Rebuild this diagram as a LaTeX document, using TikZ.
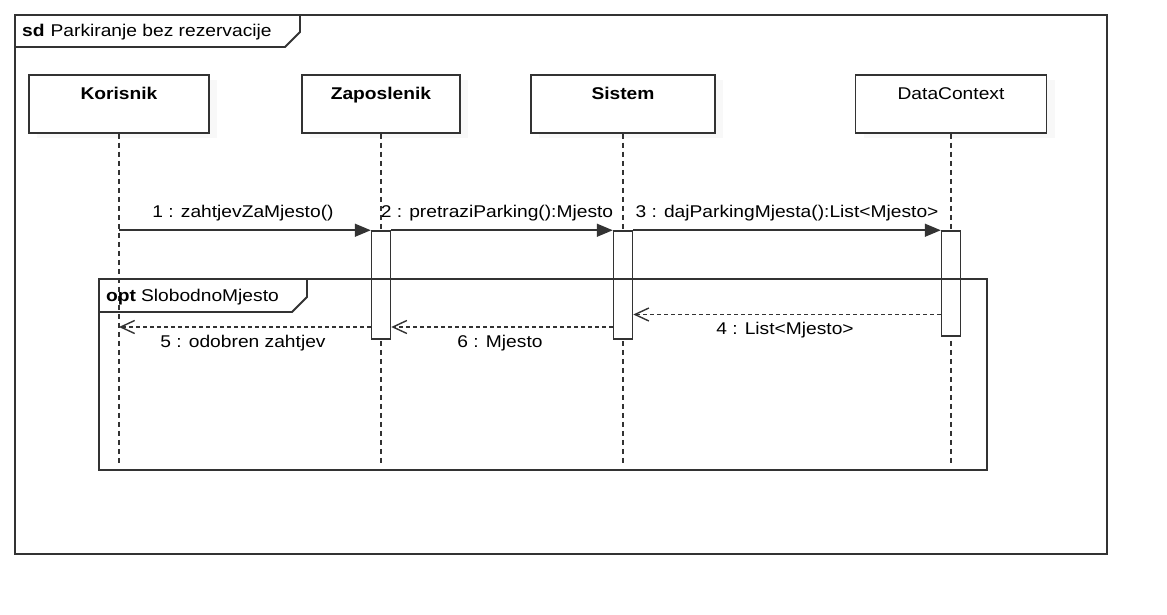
\documentclass[tikz,border=0pt]{standalone}
\usepackage{fontspec}
\setmainfont{Liberation Sans}[FakeStretch=1.13]
\usetikzlibrary{arrows.meta,shadows}
\definecolor{ln}{HTML}{333333}
\begin{document}
\begin{tikzpicture}[x=1pt,y=-1pt,
  base/.style={font=\fontsize{17}{20}\selectfont, text=black},
  frame/.style={draw=ln, line width=1.8pt},
  head/.style={base, draw=ln, line width=1.5pt, fill=white, minimum height=58pt,
    text height=12.5pt, text depth=21.5pt, inner ysep=12pt, inner xsep=0pt,
    drop shadow={shadow xshift=8pt, shadow yshift=-5pt, fill=black!5}},
  act/.style={draw=ln, line width=1.5pt, fill=white, minimum width=19pt, inner sep=0pt},
  lifeline/.style={draw=ln, line width=1.2pt, dash pattern=on 5pt off 4pt},
  msg/.style={draw=ln, line width=1.6pt, -{Triangle[length=16pt,width=13pt]}},
  ret/.style={draw=ln, line width=1.4pt, dash pattern=on 4pt off 3pt,
    -{Straight Barb[length=14pt,width=13pt]}},
  lbl/.style={base, inner sep=0pt, anchor=base},
]
% canvas
\fill[white] (0,0) rectangle (1167,615);
\useasboundingbox (0,0) rectangle (1167,615);

% outer sd frame
\draw[frame] (15,15) rectangle (1107,554);
\draw[frame] (15,47) -- (285,47) -- (300,32) -- (300,15);
\node[lbl, anchor=base west] (title) at (22,37) {\textbf{sd}\hspace{6pt}Parkiranje bez rezervacije};

% lifeline heads
\node[head, minimum width=180pt] (kor) at (119,104) {\textbf{Korisnik}};
\node[head, minimum width=158pt] (zap) at (381,104) {\textbf{Zaposlenik}};
\node[head, minimum width=184pt] (sis) at (623,104) {\textbf{Sistem}};
\node[head, minimum width=191pt] (dc)  at (951,104) {DataContext};

% lifeline ends
\coordinate (korE) at (119,465);
\coordinate (zapE) at (381,465);
\coordinate (sisE) at (623,465);
\coordinate (dcE)  at (951,465);
\draw[lifeline] (kor.south) -- (korE);
\draw[lifeline] (zap.south) -- (zapE);
\draw[lifeline] (sis.south) -- (sisE);
\draw[lifeline] (dc.south)  -- (dcE);

% activations
\node[act, minimum height=108pt] (zapA) at (381,285) {};
\node[act, minimum height=108pt] (sisA) at (623,285) {};
\node[act, minimum height=105pt] (dcA)  at (951,283.5) {};

% opt fragment
\draw[frame] (99,279) rectangle (987,470);
\draw[frame] (99,312) -- (292,312) -- (307,297) -- (307,279);
\node[lbl, anchor=base west] (optl) at (106,301) {\textbf{opt}\hspace{5pt}SlobodnoMjesto};

% messages
\draw[msg] (kor.south |- zapA.north west) -- (zapA.north west);
\draw[msg] (zapA.north east) -- (sisA.north west);
\draw[msg] (sisA.north east) -- (dcA.north west);

\coordinate (y4) at (0,314.5);
\coordinate (y5) at (0,327);
\draw[ret] (dcA.west |- y4) -- (sisA.east |- y4);
\draw[ret] (sisA.west |- y5) -- (zapA.east |- y5);
\draw[ret] (zapA.west |- y5) -- (kor.south |- y5);

% labels
\node[lbl] (l1) at (243,217) {1 : zahtjevZaMjesto()};
\node[lbl] (l2) at (497,217) {2 : pretraziParking():Mjesto};
\node[lbl] (l3) at (787,217) {3 : dajParkingMjesta():List<Mjesto>};
\node[lbl] (l4) at (785,334) {4 : List<Mjesto>};
\node[lbl] (l5) at (243,347) {5 : odobren zahtjev};
\node[lbl] (l6) at (500,347) {6 : Mjesto};
\end{tikzpicture}
\end{document}
